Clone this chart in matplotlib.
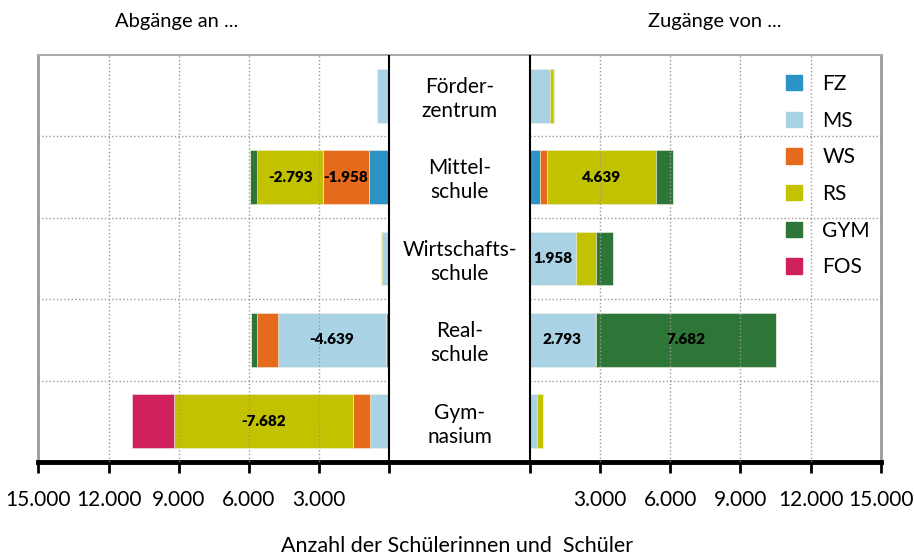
import matplotlib
matplotlib.use('Agg')
import matplotlib.pyplot as plt
import matplotlib.patches as mpatches
import numpy as np

plt.rcParams['font.family'] = ['Lato', 'DejaVu Sans']

# Schularten (von oben nach unten)
schularten = ['Förder-\nzentrum', 'Mittel-\nschule', 'Wirtschafts-\nschule', 'Real-\nschule', 'Gym-\nnasium']
ziele = ['FZ', 'MS', 'WS', 'RS', 'GYM', 'FOS']
farben = ['#2b93c6', '#a9d2e5', '#e56a1b', '#c3c200', '#2e7638', '#cf1f5c']

# Abgänge an ... (linke Seite), Reihenfolge FZ, MS, WS, RS, GYM, FOS
abg_fz = [0, 885, 0, 128, 0]
abg_ms = [510, 0, 300, 4639, 825]
abg_ws = [0, 1958, 0, 880, 713]
abg_rs = [0, 2793, 45, 0, 7682]
abg_gym = [0, 330, 0, 256, 0]
abg_fos = [0, 0, 0, 0, 1766]

# Zugänge von ... (rechte Seite)
zug_fz = [0, 450, 0, 0, 0]
zug_ms = [880, 0, 1958, 2793, 329]
zug_ws = [0, 295, 0, 55, 0]
zug_rs = [100, 4639, 889, 0, 250]
zug_gym = [70, 740, 713, 7682, 0]
zug_fos = [0, 0, 0, 0, 0]

# beschriftete Werte (Schulart-Index, Ziel-Index)
labels_links = [(1, 3), (1, 2), (3, 1), (4, 3)]
labels_rechts = [(1, 3), (2, 1), (3, 1), (3, 4)]

GAP = 3000
XMAX = 15000


def fmt(v):
    return f'{v:,}'.replace(',', '.')


def plot_chart():
    fig = plt.figure(figsize=(9.14, 5.58), dpi=100)
    ax = fig.add_axes([0.042, 0.172, 0.9216, 0.7294])

    links = np.array([abg_fz, abg_ms, abg_ws, abg_rs, abg_gym, abg_fos], dtype=float)
    rechts = np.array([zug_fz, zug_ms, zug_ws, zug_rs, zug_gym, zug_fos], dtype=float)
    y = np.arange(len(schularten))
    h = 0.66

    cum_l = np.zeros(len(schularten))
    cum_r = np.zeros(len(schularten))
    for k in range(len(ziele)):
        ax.barh(y, -links[k], height=h, left=-GAP - cum_l, color=farben[k],
                edgecolor='#eeeedd', linewidth=0.4, zorder=2)
        ax.barh(y, rechts[k], height=h, left=GAP + cum_r, color=farben[k],
                edgecolor='#eeeedd', linewidth=0.4, zorder=2)
        cum_l += links[k]
        cum_r += rechts[k]

    # Werte in den Balken
    for i, k in labels_links:
        start = GAP + links[:k, i].sum()
        xm = -(start + links[k, i] / 2)
        ax.text(xm, y[i], '-' + fmt(int(links[k, i])), ha='center', va='center',
                fontsize=11, fontweight='heavy', color='black', zorder=4)
    for i, k in labels_rechts:
        start = GAP + rechts[:k, i].sum()
        xm = start + rechts[k, i] / 2
        ax.text(xm, y[i], fmt(int(rechts[k, i])), ha='center', va='center',
                fontsize=11, fontweight='heavy', color='black', zorder=4)

    # Schularten in der Mitte
    for i, name in enumerate(schularten):
        ax.text(0, y[i] + 0.04, name, ha='center', va='center', fontsize=15,
                linespacing=1.25, zorder=4)

    ax.set_xlim(-GAP - XMAX, GAP + XMAX)
    ax.set_ylim(len(schularten) - 0.5, -0.5)

    # Gitter (gepunktet, nur in den beiden Hälften)
    steps = np.arange(3000, XMAX, 3000)
    for s in steps:
        ax.axvline(-GAP - s, color='#999999', linestyle=':', linewidth=1, zorder=3)
        ax.axvline(GAP + s, color='#999999', linestyle=':', linewidth=1, zorder=3)
    for b in np.arange(0.5, len(schularten) - 0.5, 1):
        ax.hlines(b, -GAP - XMAX, -GAP, color='#999999', linestyle=':', linewidth=1, zorder=3)
        ax.hlines(b, GAP, GAP + XMAX, color='#999999', linestyle=':', linewidth=1, zorder=3)

    ax.axvline(-GAP, color='black', linewidth=1.5, zorder=4)
    ax.axvline(GAP, color='black', linewidth=1.5, zorder=4)

    # Achsen
    ticks = list(-GAP - np.arange(XMAX, -1, -3000)) + list(GAP + np.arange(0, XMAX + 1, 3000))
    ticklabels = [fmt(int(v)) if v > 0 else '' for v in np.arange(XMAX, -1, -3000)] + \
                 [fmt(int(v)) if v > 0 else '' for v in np.arange(0, XMAX + 1, 3000)]
    ax.set_xticks(ticks)
    ax.set_xticklabels(ticklabels, fontsize=15)
    ax.tick_params(axis='x', direction='out', length=8, width=2, pad=12)
    ax.set_yticks([])

    for side in ['left', 'right']:
        ax.spines[side].set_color('#999999')
        ax.spines[side].set_linewidth(2)
    ax.spines['top'].set_color('#aaaaaa')
    ax.spines['top'].set_linewidth(1.5)
    ax.spines['bottom'].set_color('black')
    ax.spines['bottom'].set_linewidth(3.5)

    # Legende
    handles = [mpatches.Patch(color=c) for c in farben]
    ax.legend(handles, ziele, loc='upper left', bbox_to_anchor=(786 / 914, 1 - 74 / 558),
              bbox_transform=fig.transFigure, frameon=False, fontsize=15,
              handlelength=0.75, handleheight=0.75, handletextpad=1.0,
              labelspacing=0.8, borderpad=0, borderaxespad=0)

    fig.text(177 / 914, 1 - 21 / 558, 'Abgänge an ...', ha='center', va='center', fontsize=14.5)
    fig.text(715 / 914, 1 - 21 / 558, 'Zugänge von ...', ha='center', va='center', fontsize=14.5)
    fig.text(457 / 914, 1 - 546 / 558, 'Anzahl der Schülerinnen und  Schüler',
             ha='center', va='center', fontsize=15.5)

    fig.savefig('out.png', dpi=100)


if __name__ == '__main__':
    plot_chart()
